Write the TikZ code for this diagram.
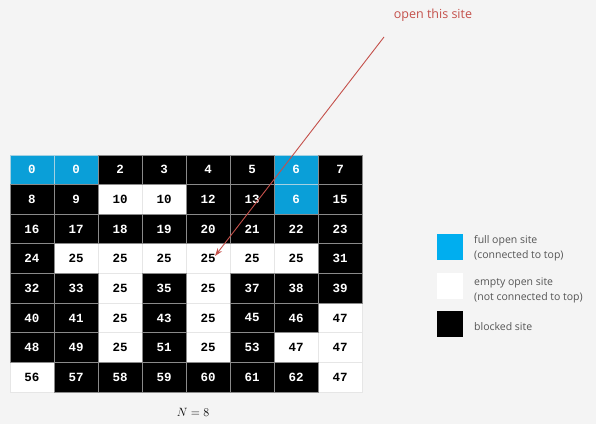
\documentclass[tikz,border=0pt]{standalone}
\usepackage{fontspec}
\setmonofont{Liberation Mono}
\newfontfamily\legendfont{Open Sans}
\usetikzlibrary{arrows.meta}
\definecolor{bgc}{HTML}{F4F4F4}
\definecolor{fullc}{HTML}{0A9FD8}
\definecolor{legc}{HTML}{00AEEF}
\definecolor{gline}{HTML}{8A8A8A}
\definecolor{wline}{HTML}{E6E6E6}
\definecolor{redc}{HTML}{C4504A}
\definecolor{legtext}{HTML}{555555}
\tikzset{
  cell/.style={minimum width=44pt, minimum height=29.625pt, inner sep=0pt, outer sep=0pt,
    font=\ttfamily\bfseries\fontsize{12.5}{12.5}\selectfont, line width=0.8pt},
  wcell/.style={cell, fill=white, draw=wline, text=black},
  ccell/.style={cell, fill=fullc, draw=wline!70!fullc, text=white},
  bcell/.style={cell, fill=black, draw=gline, text=white},
  legbox/.style={minimum width=26pt, minimum height=26pt, inner sep=0pt},
  legtxt/.style={font=\legendfont\fontsize{10.5}{15}\selectfont, text=legtext, align=left, anchor=west, inner sep=0pt},
}
\begin{document}
\begin{tikzpicture}[x=1pt,y=1pt]
\useasboundingbox (0,0) rectangle (596,424);
\fill[bgc] (0,0) rectangle (596,424);
% white cells first
\foreach \r/\c/\v in {1/2/10,1/3/10,3/1/25,3/2/25,3/3/25,3/4/25,3/5/25,3/6/25,
  4/2/25,4/4/25,5/2/25,5/4/25,5/7/47,6/2/25,6/4/25,6/6/47,6/7/47,7/0/56,7/7/47}
  \node[wcell] (c-\r-\c) at (10+44*\c+22, 424-155-29.625*\r-14.8125) {\v};
% full cells
\foreach \r/\c/\v in {0/0/0,0/1/0,0/6/6,1/6/6}
  \node[ccell] (c-\r-\c) at (10+44*\c+22, 424-155-29.625*\r-14.8125) {\v};
% blocked cells
\foreach \r/\c/\v in {0/2/2,0/3/3,0/4/4,0/5/5,0/7/7,
  1/0/8,1/1/9,1/4/12,1/5/13,1/7/15,
  2/0/16,2/1/17,2/2/18,2/3/19,2/4/20,2/5/21,2/6/22,2/7/23,
  3/0/24,3/7/31,
  4/0/32,4/1/33,4/3/35,4/5/37,4/6/38,4/7/39,
  5/0/40,5/1/41,5/3/43,5/5/45,5/6/46,
  6/0/48,6/1/49,6/3/51,6/5/53,
  7/1/57,7/2/58,7/3/59,7/4/60,7/5/61,7/6/62}
  \node[bcell] (c-\r-\c) at (10+44*\c+22, 424-155-29.625*\r-14.8125) {\v};
% annotation
\node[font=\legendfont\fontsize{12.5}{14}\selectfont, text=redc] (opentxt) at (433,409) {open this site};
\coordinate (astart) at (384,387);
\coordinate (atip) at (215,168);
\draw[redc, line width=0.9pt, -{Stealth[length=8pt,width=5.5pt]}] (astart) -- (atip);
% legend
\node[legbox, fill=legc] (lfull) at (450,177) {};
\node[legbox, fill=white] (lempty) at (450,138.5) {};
\node[legbox, fill=black] (lblock) at (450,100.5) {};
\node[legtxt] (tfull) at (474,176) {full open site\\(connected to top)};
\node[legtxt] (tempty) at (474,134) {empty open site\\(not connected to top)};
\node[legtxt] (tblock) at (474,97) {blocked site};
\node[font=\fontsize{12}{14}\selectfont] (nlabel) at (193,12) {$N = 8$};
\end{tikzpicture}
\end{document}
